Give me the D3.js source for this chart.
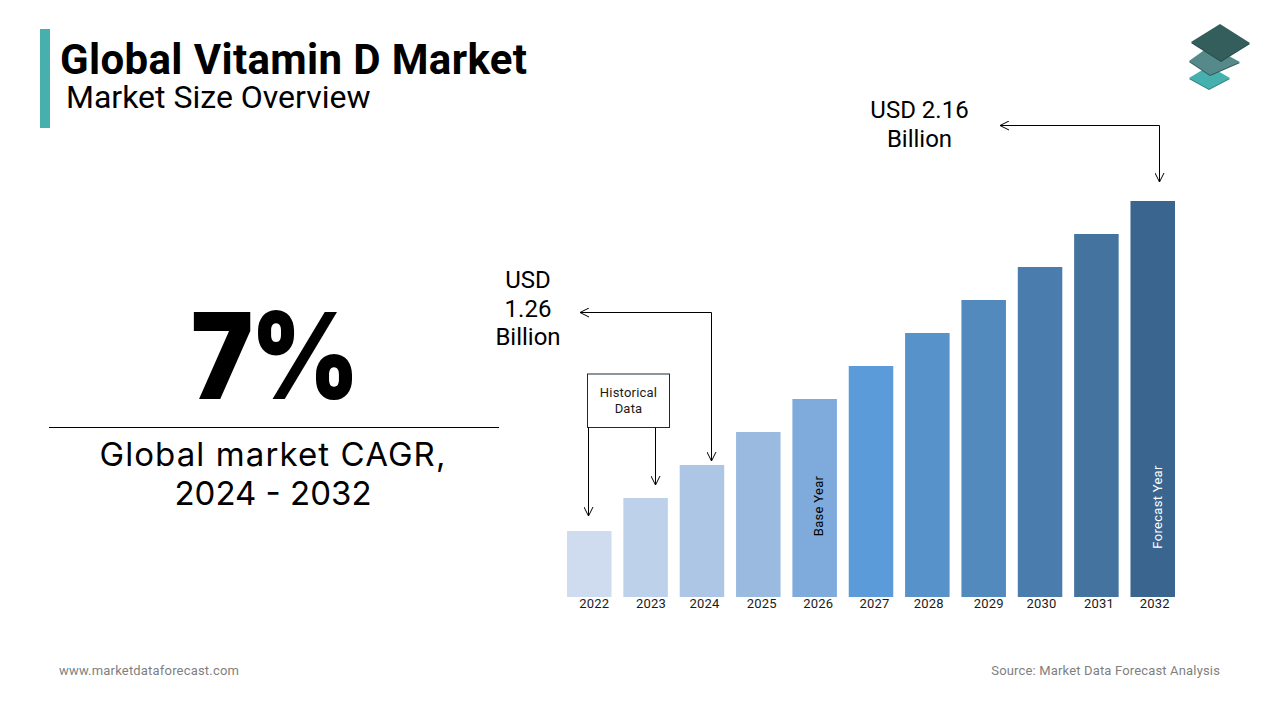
<!DOCTYPE html>
<html>
<head>
<meta charset="utf-8">
<script src="https://cdn.jsdelivr.net/npm/d3@7"></script>
<style>
  html, body { margin: 0; padding: 0; background: #fff; }
  svg { display: block; }
</style>
</head>
<body>
<svg id="chart" width="1280" height="720" font-family="Roboto, sans-serif"></svg>
<script>
// Chart data (the bars in the picture are schematic, so levels are read in even bar-height units)
const years = ["2022", "2023", "2024", "2025", "2026", "2027", "2028", "2029", "2030", "2031", "2032"];
const levels = [2, 3, 4, 5, 6, 7, 8, 9, 10, 11, 12];
const barColors = ["#cfdcef", "#bed1ea", "#aec6e5", "#9abae0", "#7faadc", "#5b9bd9", "#5792cb", "#528abd", "#4a7cad", "#44739f", "#3a658f"];
const labelNudge = [4.5, 5, 2, 3, 3, 3, 1, 4.5, 1, 2, 1.5];

const svg = d3.select("#chart");

// Scales
const x = d3.scaleBand().domain(years).range([567, 1175]).paddingInner(0.21);
const y = d3.scaleLinear().domain([0, 12]).range([597, 201]);

// Arrow head
svg.append("defs").append("marker")
  .attr("id", "head")
  .attr("viewBox", "0 0 10 10")
  .attr("refX", 9.5).attr("refY", 5)
  .attr("markerWidth", 10).attr("markerHeight", 10)
  .attr("markerUnits", "userSpaceOnUse")
  .attr("orient", "auto-start-reverse")
  .append("path")
  .attr("d", "M0.5,0.5L9.5,5L0.5,9.5")
  .attr("fill", "none")
  .attr("stroke", "#000")
  .attr("stroke-width", 1);

// Header
svg.append("rect").attr("x", 40).attr("y", 29).attr("width", 10).attr("height", 99).attr("fill", "#45b0ae");
svg.append("text").attr("x", 60).attr("y", 74)
  .attr("font-size", 42).attr("font-weight", 700).attr("letter-spacing", 0.36).attr("fill", "#000")
  .text("Global Vitamin D Market");
svg.append("text").attr("x", 66).attr("y", 108)
  .attr("font-size", 32).attr("fill", "#000")
  .text("Market Size Overview");

// Logo
const logo = svg.append("g");
[
  { pts: "1209,66 1230,78 1209,89 1189,78", fill: "#45b0ae", edge: "#2f7f7d" },
  { pts: "1210,46 1240,62 1210,75 1189,61", fill: "#55898a", edge: "#2f5756" },
  { pts: "1220,24 1250,43 1221,61 1191,42", fill: "#335e5c", edge: "#27494a" }
].forEach(d => {
  logo.append("polygon").attr("points", d.pts).attr("fill", d.edge).attr("transform", "translate(0,1)");
  logo.append("polygon").attr("points", d.pts).attr("fill", d.fill);
});

// Left panel
svg.append("text").attr("transform", "translate(274,398.5) scale(0.87,1)").attr("text-anchor", "middle")
  .attr("font-family", "Inter").attr("font-size", 120).attr("font-weight", 900).attr("letter-spacing", -3).attr("fill", "#000")
  .text("7%");
svg.append("line").attr("x1", 49).attr("x2", 499).attr("y1", 427.5).attr("y2", 427.5)
  .attr("stroke", "#000").attr("stroke-width", 1);
svg.append("text").attr("x", 273).attr("y", 466).attr("text-anchor", "middle")
  .attr("font-family", "Inter").attr("font-size", 33).attr("letter-spacing", 1.1).attr("fill", "#000")
  .text("Global market CAGR,");
svg.append("text").attr("x", 273).attr("y", 505).attr("text-anchor", "middle")
  .attr("font-family", "Inter").attr("font-size", 33).attr("fill", "#000")
  .text("2024 - 2032");

// Bars
svg.selectAll("rect.bar")
  .data(years)
  .join("rect")
  .attr("class", "bar")
  .attr("x", d => x(d))
  .attr("y", (d, i) => y(levels[i]))
  .attr("width", x.bandwidth())
  .attr("height", (d, i) => y(0) - y(levels[i]))
  .attr("fill", (d, i) => barColors[i]);

// Year axis
const axis = svg.append("g")
  .attr("transform", "translate(0,597)")
  .call(d3.axisBottom(x).tickSize(0).tickPadding(1));
axis.select(".domain").remove();
axis.selectAll("text")
  .attr("font-family", "Roboto")
  .attr("font-size", 13)
  .attr("letter-spacing", 0.2)
  .attr("fill", "#1a1a1a")
  .attr("dy", "0.75em")
  .attr("dx", (d, i) => labelNudge[i] + 0.5);

// Labels inside bars
svg.append("text")
  .attr("transform", `translate(${x("2026") + x.bandwidth() / 2 + 8},506) rotate(-90)`)
  .attr("text-anchor", "middle")
  .attr("font-size", 13).attr("letter-spacing", 0.3).attr("fill", "#000")
  .text("Base Year");
svg.append("text")
  .attr("transform", `translate(${x("2032") + x.bandwidth() / 2 + 9},507) rotate(-90)`)
  .attr("text-anchor", "middle")
  .attr("font-size", 13).attr("letter-spacing", 0.3).attr("fill", "#fff")
  .text("Forecast Year");

// Historical data box
svg.append("rect").attr("x", 587.5).attr("y", 374).attr("width", 82).attr("height", 53.5)
  .attr("fill", "#fff").attr("stroke", "#1b2a41").attr("stroke-width", 1);
svg.append("text").attr("x", 628.5).attr("y", 397).attr("text-anchor", "middle")
  .attr("font-size", 13).attr("letter-spacing", 0.2).attr("fill", "#1a1a1a").text("Historical");
svg.append("text").attr("x", 628.5).attr("y", 413).attr("text-anchor", "middle")
  .attr("font-size", 13).attr("letter-spacing", 0.2).attr("fill", "#1a1a1a").text("Data");

// Callout arrows
const arrows = [
  { path: "M588.5,427.5V516", start: false },
  { path: "M655.5,427.5V485", start: false },
  { path: "M580,312.5H711.5V461", start: true },
  { path: "M1000,125.5H1159.5V182", start: true }
];
arrows.forEach(a => {
  const p = svg.append("path")
    .attr("d", a.path)
    .attr("fill", "none")
    .attr("stroke", "#000")
    .attr("stroke-width", 1)
    .attr("marker-end", "url(#head)");
  if (a.start) p.attr("marker-start", "url(#head)");
});

// Callout values
["USD", "1.26", "Billion"].forEach((t, i) => {
  svg.append("text").attr("x", 528).attr("y", 288 + i * 28.7).attr("text-anchor", "middle")
    .attr("font-size", 24).attr("fill", "#000").text(t);
});
["USD 2.16", "Billion"].forEach((t, i) => {
  svg.append("text").attr("x", 919.5).attr("y", 118 + i * 28.7).attr("text-anchor", "middle")
    .attr("font-size", 24).attr("fill", "#000").text(t);
});

// Footer
svg.append("text").attr("x", 59).attr("y", 675)
  .attr("font-size", 13).attr("letter-spacing", 0.19).attr("fill", "#7f7f7f")
  .text("www.marketdataforecast.com");
svg.append("text").attr("x", 1220).attr("y", 675).attr("text-anchor", "end")
  .attr("font-size", 13).attr("letter-spacing", 0.16).attr("fill", "#7f7f7f")
  .text("Source: Market Data Forecast Analysis");
</script>
</body>
</html>
